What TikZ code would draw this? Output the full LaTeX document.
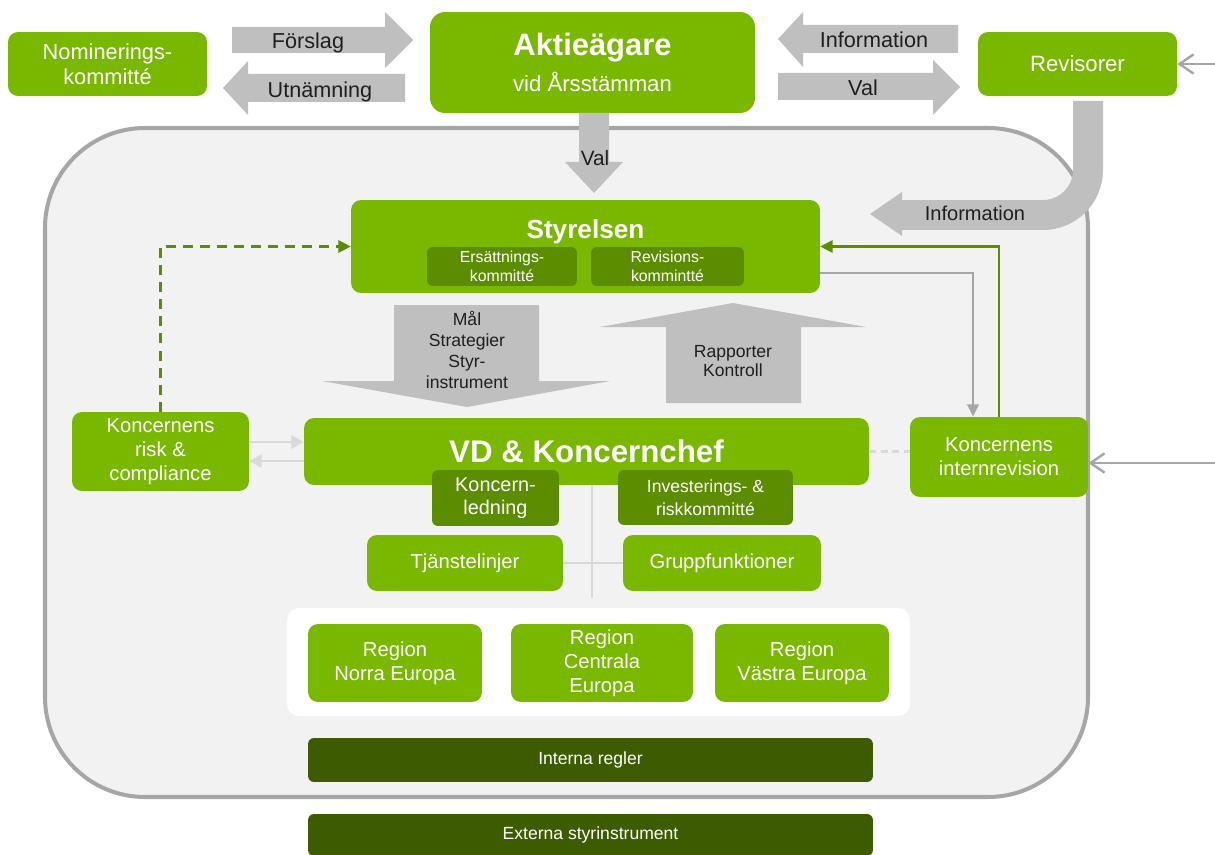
\documentclass[tikz,border=0pt]{standalone}
\usepackage{fontspec}
\setmainfont{Liberation Sans}
\usetikzlibrary{arrows.meta}
\definecolor{kgreen}{RGB}{122,184,0}
\definecolor{kdark}{RGB}{92,140,0}
\definecolor{kdeep}{RGB}{61,92,0}
\definecolor{arrowgray}{RGB}{191,191,191}
\definecolor{framegray}{RGB}{166,166,166}
\definecolor{panelgray}{RGB}{242,242,242}
\definecolor{linegray}{RGB}{217,217,217}
\begin{document}
\begin{tikzpicture}[x=0.02cm, y=-0.02cm,
    box/.style={fill=kgreen, text=white, rounded corners=0.2cm, align=center, inner sep=1pt, font=\fontsize{11.5}{13.6}\selectfont},
    subbox/.style={fill=kdark, text=white, rounded corners=0.12cm, align=center, inner sep=1pt},
    rulebox/.style={fill=kdeep, text=white, rounded corners=0.12cm, minimum width=11.3cm, font=\fontsize{10}{12}\selectfont},
    fatarrow/.style={fill=arrowgray},
    arrowtext/.style={text=black!88, align=center, font=\fontsize{12.3}{14}\selectfont},
    grayline/.style={framegray, line width=1.4pt},
    paleline/.style={linegray, line width=1.4pt},
    greenline/.style={kdark, line width=1.2pt},
]
    \useasboundingbox (0,0) rectangle (1215,855);
    \clip (0,0) rectangle (1215,855);
    % Group frame
    \draw[framegray, line width=2.3pt, fill=panelgray, rounded corners=2cm] (45,128) rectangle (1088,797);
    % Owners, nomination and auditors
    \node[box, minimum width=3.98cm, minimum height=1.28cm, font=\fontsize{12.4}{14.2}\selectfont] (nom) at (107.5,64) {Nominerings-\\kommitté};
    \node[box, minimum width=6.5cm, minimum height=2.02cm, rounded corners=0.3cm] (owners) at (592.5,62.5)
        {{\fontsize{17.6}{20}\selectfont\bfseries Aktieägare}\\[5pt]{\fontsize{12.6}{15}\selectfont vid Årsstämman}};
    \node[box, minimum width=3.98cm, minimum height=1.28cm, font=\fontsize{12.6}{14.2}\selectfont] (rev) at (1077.5,64) {Revisorer};
    % Board
    \node[box, minimum width=9.38cm, minimum height=1.86cm] (board) at (585.5,246.5) {};
    \node[text=white, font=\fontsize{14.9}{17}\selectfont\bfseries] (boardtitle) at (585.5,232) {Styrelsen};
    \node[subbox, minimum width=3cm, minimum height=0.78cm, font=\fontsize{9}{11}\selectfont] (remcom) at (502,266.5) {Ersättnings-\\kommitté};
    \node[subbox, minimum width=3.06cm, minimum height=0.78cm, font=\fontsize{9}{11}\selectfont] (audcom) at (667.5,266.5) {Revisions-\\kommintté};
    % CEO and management
    \node[box, minimum width=11.3cm, minimum height=1.34cm, font=\fontsize{17.8}{20}\selectfont\bfseries] (ceo) at (586.5,451.5) {VD \& Koncernchef};
    \node[subbox, minimum width=2.54cm, minimum height=1.12cm, font=\fontsize{11.3}{13}\selectfont] (mgmt) at (495.5,498) {Koncern-\\ledning};
    \node[subbox, minimum width=3.5cm, minimum height=1.1cm, font=\fontsize{10}{13}\selectfont] (invrisk) at (705.5,497.5) {Investerings- \&\\riskkommitté};
    \node[box, minimum width=3.92cm, minimum height=1.12cm] (service) at (465,563) {Tjänstelinjer};
    \node[box, minimum width=3.96cm, minimum height=1.12cm] (groupfn) at (722,563) {Gruppfunktioner};
    \node[box, minimum width=3.54cm, minimum height=1.58cm] (risk) at (160.5,451.5) {Koncernens\\risk \&\\compliance};
    \node[box, minimum width=3.56cm, minimum height=1.6cm] (audit) at (999,457) {Koncernens\\internrevision};
    % Regions
    \node[fill=white, rounded corners=0.24cm, minimum width=12.46cm, minimum height=2.16cm] (regpanel) at (598.5,662) {};
    \node[box, minimum width=3.48cm, minimum height=1.56cm] (north) at (395,663) {Region\\Norra Europa};
    \node[box, minimum width=3.64cm, minimum height=1.56cm] (central) at (602,663) {Region\\Centrala\\Europa};
    \node[box, minimum width=3.48cm, minimum height=1.56cm] (west) at (802,663) {Region\\Västra Europa};
    % Rules
    \node[rulebox, minimum height=0.88cm] (internal) at (590.5,760) {Interna regler};
    \node[rulebox, minimum height=0.84cm] (external) at (590.5,835) {Externa styrinstrument};
    % Broad arrows
    \fill[fatarrow] (232,27) -- (385,27) -- (385,12) -- (413,40) -- (385,68) -- (385,53) -- (232,53) -- cycle;
    \node[arrowtext, anchor=base] (proposal) at (308,49) {Förslag};
    \fill[fatarrow] (405,74) -- (248,74) -- (248,61) -- (223,88) -- (248,115) -- (248,102) -- (405,102) -- cycle;
    \node[arrowtext, anchor=base] (appoint) at (320,98) {Utnämning};
    \fill[fatarrow] (958,25) -- (803,25) -- (803,12) -- (778,39) -- (803,67) -- (803,53) -- (958,53) -- cycle;
    \node[arrowtext, anchor=base] (infotop) at (874,48) {Information};
    \fill[fatarrow] (778,73) -- (933,73) -- (933,60) -- (960,87) -- (933,115) -- (933,100) -- (778,100) -- cycle;
    \node[arrowtext, anchor=base] (elect) at (863,96) {Val};
    \fill[fatarrow] (579,113) -- (609,113) -- (609,162) -- (623,162) -- (594,193) -- (565,162) -- (579,162) -- cycle;
    \node[arrowtext, anchor=base, font=\fontsize{11.8}{14}\selectfont] (electboard) at (595,166) {Val};
    \draw[arrowgray, line width=0.6cm, rounded corners=0.9cm] (1088,101) -- (1088,215) -- (902,215);
    \fill[fatarrow] (902,192) -- (870,214) -- (902,236) -- cycle;
    \node[arrowtext, anchor=base, font=\fontsize{11.4}{14}\selectfont] (infoboard) at (975,221) {Information};
    \fill[fatarrow] (394,305) -- (539,305) -- (539,381) -- (610,381) -- (467,407) -- (322,381) -- (394,381) -- cycle;
    \node[arrowtext, font=\fontsize{10}{11.9}\selectfont] (goals) at (467,350) {Mål\\Strategier\\Styr-\\instrument};
    \fill[fatarrow] (666,403) -- (801,403) -- (801,327) -- (866,327) -- (733,303) -- (600,327) -- (666,327) -- cycle;
    \node[arrowtext, font=\fontsize{10}{11.3}\selectfont] (reports) at (733,361) {Rapporter\\Kontroll};
    % Connectors
    \coordinate (revin) at (1215,64);
    \coordinate (auditin) at (1215,463);
    \draw[grayline, -{Straight Barb[length=8pt,width=11pt]}] (revin) -- (rev.east);
    \draw[grayline, -{Straight Barb[length=8pt,width=11pt]}] (auditin) -- (auditin -| audit.east);
    \coordinate (toceo) at (0,442);
    \coordinate (fromceo) at (0,461);
    \draw[paleline, -{Triangle[length=7pt,width=7.5pt]}] (toceo -| risk.east) -- (toceo -| ceo.west);
    \draw[paleline, -{Triangle[length=7pt,width=7.5pt]}] (fromceo -| ceo.west) -- (fromceo -| risk.east);
    \draw[greenline, dash pattern=on 5.7pt off 4pt, -{Triangle[length=7pt,width=7pt]}] (risk.north) |- (board.west);
    \coordinate (boardout) at (973,273);
    \draw[grayline, -{Triangle[length=7pt,width=6.5pt]}] (boardout -| board.east) -| (boardout |- audit.north);
    \draw[greenline, -{Triangle[length=7pt,width=7pt]}] (audit.north) |- (board.east);
    \draw[paleline, dash pattern=on 4pt off 2.5pt] (ceo.east) -- (ceo.east -| audit.west);
    \coordinate (stem) at (592,598);
    \draw[paleline] (stem |- ceo.south) -- (stem);
    \draw[paleline] (service.east) -- (groupfn.west);
\end{tikzpicture}
\end{document}
